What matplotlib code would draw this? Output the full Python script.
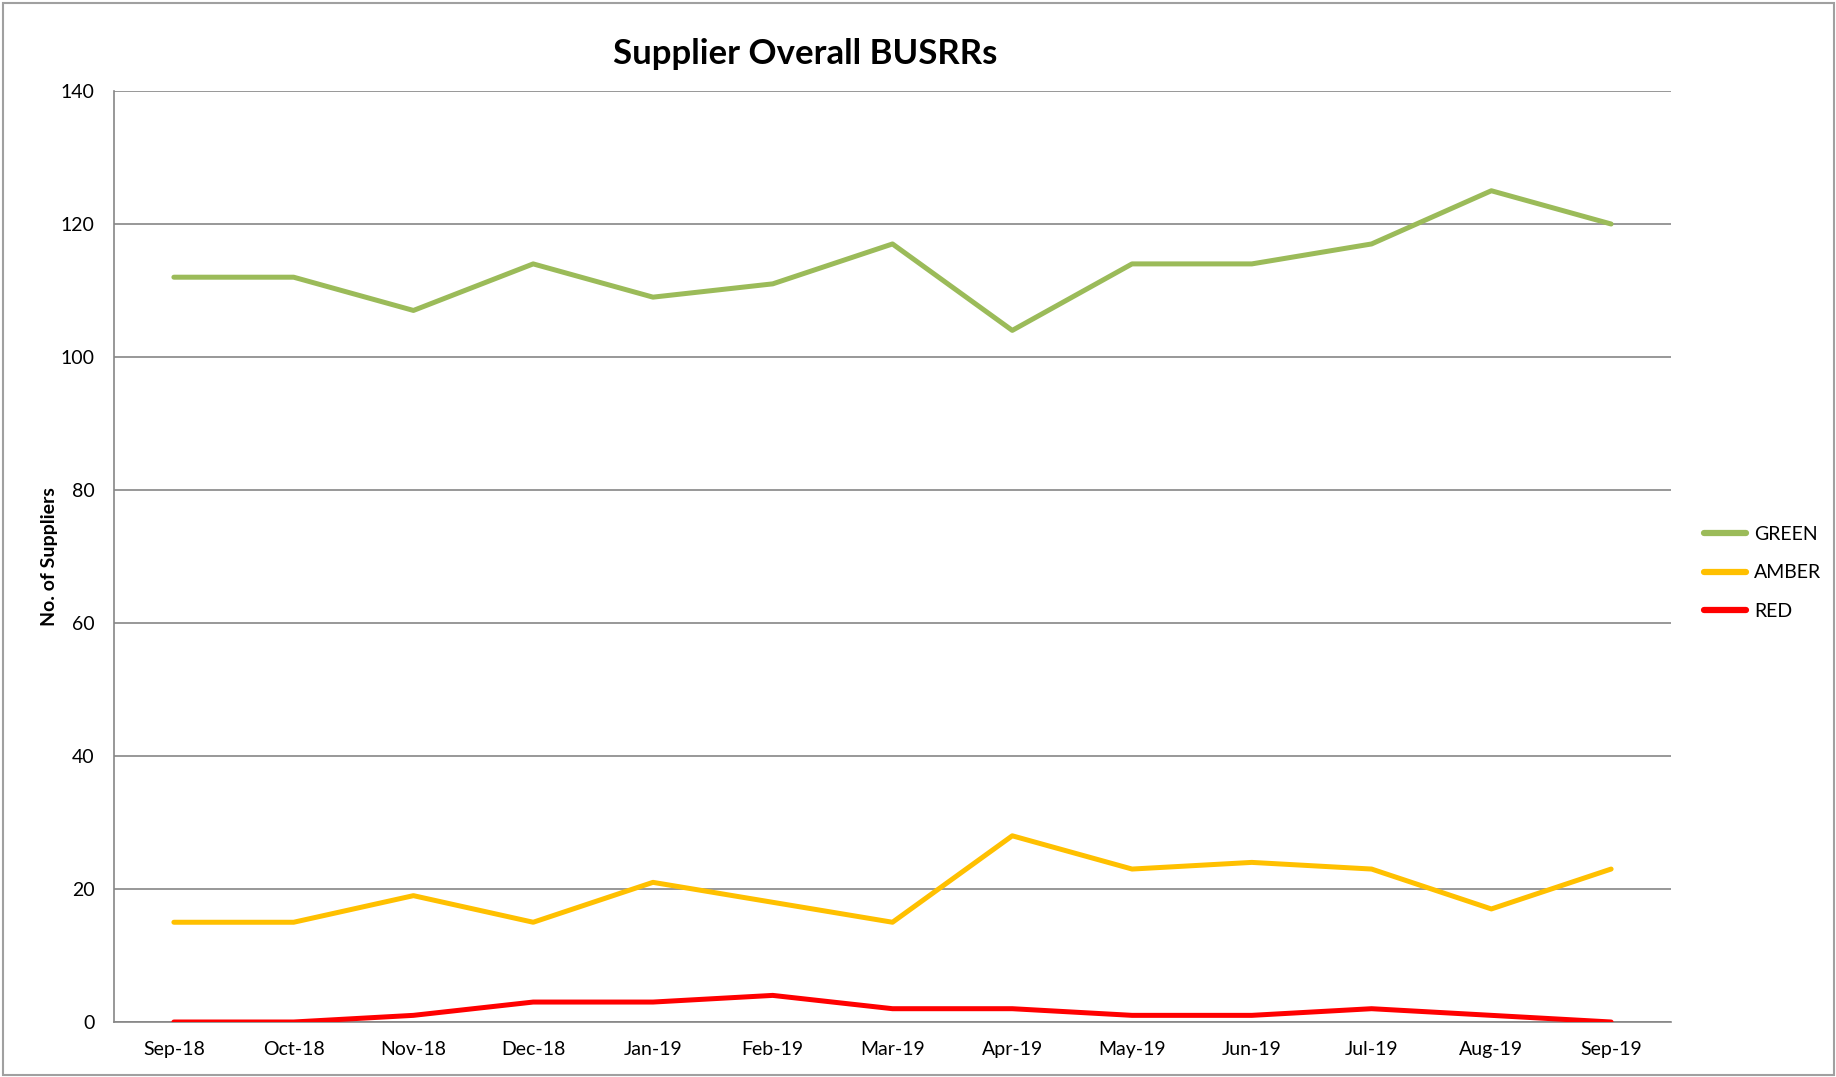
import matplotlib
matplotlib.use("Agg")
import matplotlib.pyplot as plt
from matplotlib.patches import Rectangle

months = ["Sep-18", "Oct-18", "Nov-18", "Dec-18", "Jan-19", "Feb-19", "Mar-19",
          "Apr-19", "May-19", "Jun-19", "Jul-19", "Aug-19", "Sep-19"]
green = [112, 112, 107, 114, 109, 111, 117, 104, 114, 114, 117, 125, 120]
amber = [15, 15, 19, 15, 21, 18, 15, 28, 23, 24, 23, 17, 23]
red = [0, 0, 1, 3, 3, 4, 2, 2, 1, 1, 2, 1, 0]
series_names = ["GREEN", "AMBER", "RED"]
series_colors = ["#9BBB59", "#FFC000", "#FF0000"]
yticks = [0, 20, 40, 60, 80, 100, 120, 140]

plt.rcParams['font.family'] = ['Lato', 'DejaVu Sans']

W, H = 1836, 1077
fig = plt.figure(figsize=(W / 100, H / 100), dpi=100)
ax = fig.add_axes([114 / W, 1 - 1022 / H, (1671 - 114) / W, (1022 - 91) / H])

x = list(range(len(months)))
for vals, name, col in zip([green, amber, red], series_names, series_colors):
    ax.plot(x, vals, color=col, lw=3.6, label=name, solid_capstyle='round',
            solid_joinstyle='round', zorder=3)

ax.set_xlim(-0.5, len(months) - 0.5)
ax.set_ylim(0, 140)
ax.set_yticks(yticks)
ax.set_xticks(x)
ax.set_xticklabels(months, fontsize=14)
ax.tick_params(axis='y', labelsize=14, length=0, pad=14)
ax.tick_params(axis='x', length=0, pad=14)
ax.grid(axis='y', color='#868686', lw=1.2, zorder=1)
for s in ['top', 'right']:
    ax.spines[s].set_visible(False)
for s in ['left', 'bottom']:
    ax.spines[s].set_color('#868686')
    ax.spines[s].set_linewidth(1.2)

ax.set_ylabel("No. of Suppliers", fontsize=14, fontweight='bold')
ax.yaxis.set_label_coords(-(114 - 58) / (1671 - 114), 0.5)

fig.text(805 / W, 1 - 54 / H, "Supplier Overall BUSRRs", fontsize=25,
         fontweight='bold', ha='center', va='center')

leg = fig.legend(loc='center left', bbox_to_anchor=(1686 / W, 1 - 573 / H),
                 frameon=False, fontsize=14, handlelength=2.2, handletextpad=0.4,
                 labelspacing=1.1)
for line in leg.get_lines():
    line.set_linewidth(4.5)
    line.set_solid_capstyle('round')

fig.patches.append(Rectangle((3 / W, 2 / H), (W - 5) / W, (H - 5) / H,
                             transform=fig.transFigure, fill=False,
                             edgecolor='#A0A0A0', lw=1.5))

fig.savefig("out.png", dpi=100)
